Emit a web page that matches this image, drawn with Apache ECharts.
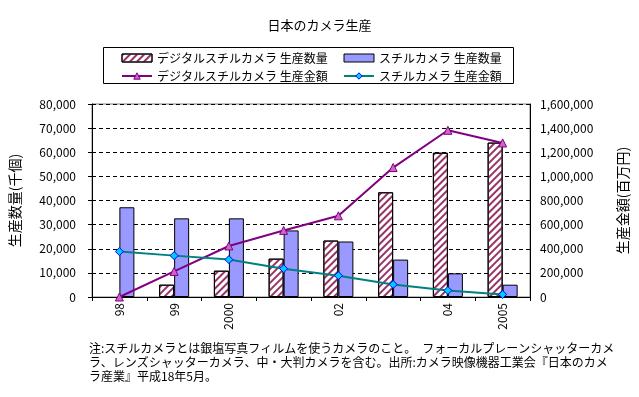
<!DOCTYPE html>
<html>
<head>
<meta charset="utf-8">
<script src="https://cdn.jsdelivr.net/npm/echarts@6/dist/echarts.min.js"></script>
<style>
  html, body { margin: 0; padding: 0; background: #fff; }
  #chart { width: 639px; height: 397px; }
</style>
</head>
<body>
<div id="chart"></div>
<script>
// 年（01年・03年はラベルなし）
const years = ['98', '99', '2000', '', '02', '', '04', '2005'];
// 生産数量（千個）  98年のデジタルは棒なし
const digitalQty = [null, 5100, 10900, 15900, 23400, 43400, 59800, 64000];
const stillQty = [37200, 32600, 32600, 27600, 23000, 15500, 9800, 5100];
// 生産金額（百万円）
const digitalValue = [0, 212000, 423000, 552000, 673000, 1073000, 1382000, 1277000];
const stillValue = [377000, 343000, 310000, 235000, 177000, 104000, 54000, 21000];

const FONT = '"Noto Sans CJK JP", "Noto Sans", sans-serif';
const fmt = v => v.toLocaleString('en-US');

const note = [
  '注:スチルカメラとは銀塩写真フィルムを使うカメラのこと。　フォーカルプレーンシャッターカメ',
  'ラ、レンズシャッターカメラ、中・大判カメラを含む。出所:カメラ映像機器工業会『日本のカメ',
  'ラ産業』平成18年5月。'
].join('\n');

const chart = echarts.init(document.getElementById('chart'));

const legendStyle = {
  orient: 'vertical',
  top: 47,
  itemWidth: 30, itemHeight: 8, itemGap: 6,
  itemStyle: { borderWidth: 1 },
  textStyle: { fontSize: 12, color: '#000', fontFamily: FONT }
};

const option = {
  animation: false,
  textStyle: { fontFamily: FONT, color: '#000' },
  title: {
    text: '日本のカメラ生産',
    left: 'center',
    top: 14,
    textStyle: { fontSize: 13, fontWeight: 'normal', color: '#000', fontFamily: FONT }
  },
  legend: [
    Object.assign({}, legendStyle, {
      left: 116,
      data: [
        { name: 'デジタルスチルカメラ 生産数量', icon: 'rect' },
        'デジタルスチルカメラ 生産金額'
      ]
    }),
    Object.assign({}, legendStyle, {
      left: 338,
      data: [
        { name: 'スチルカメラ 生産数量', icon: 'rect' },
        'スチルカメラ 生産金額'
      ]
    })
  ],
  graphic: [
    {
      type: 'rect',
      shape: { x: 103.5, y: 47.5, width: 410, height: 36 },
      style: { fill: 'none', stroke: '#000', lineWidth: 1 },
      z: -1
    },
    {
      type: 'text',
      left: 89, top: 341,
      style: { text: note, font: '12px ' + FONT, fill: '#000', lineHeight: 14 }
    }
  ],
  grid: {
    left: 92, right: 109, top: 104, bottom: 100,
    show: true, borderColor: '#808080', borderWidth: 1, backgroundColor: '#fff'
  },
  xAxis: {
    type: 'category',
    data: years,
    axisLine: { lineStyle: { color: '#000' } },
    axisTick: { show: true, alignWithLabel: false, interval: 0, length: 4, lineStyle: { color: '#000' } },
    axisLabel: { rotate: 90, interval: 0, fontSize: 12, color: '#000', margin: 6 }
  },
  yAxis: [
    {
      type: 'value',
      min: 0, max: 80000, interval: 10000,
      name: '生産数量(千個)',
      nameLocation: 'middle',
      nameGap: 70,
      nameRotate: 90,
      nameTextStyle: { fontSize: 14, color: '#000' },
      axisLine: { show: true, lineStyle: { color: '#000' } },
      axisTick: { show: true, length: 4, lineStyle: { color: '#000' } },
      axisLabel: { formatter: fmt, fontSize: 12, color: '#000', margin: 16 },
      splitLine: { show: true, lineStyle: { type: [4, 3], color: '#000' } }
    },
    {
      type: 'value',
      min: 0, max: 1600000, interval: 200000,
      name: '生産金額(百万円)',
      nameLocation: 'middle',
      nameGap: 86,
      nameRotate: 90,
      nameTextStyle: { fontSize: 14, color: '#000' },
      axisLine: { show: true, lineStyle: { color: '#000' } },
      axisTick: { show: true, inside: true, length: 4, lineStyle: { color: '#000' } },
      axisLabel: { formatter: fmt, fontSize: 12, color: '#000', margin: 10 },
      splitLine: { show: false }
    }
  ],
  series: [
    {
      name: 'デジタルスチルカメラ 生産数量',
      type: 'bar',
      data: digitalQty,
      barWidth: 15,
      barGap: '0%',
      itemStyle: {
        color: '#fff',
        borderColor: '#000',
        borderWidth: 1,
        decal: {
          symbol: 'rect',
          symbolSize: 1,
          color: '#993366',
          dashArrayX: [1, 0],
          dashArrayY: [2, 3],
          rotation: -Math.PI / 4
        }
      }
    },
    {
      name: 'スチルカメラ 生産数量',
      type: 'bar',
      data: stillQty,
      barWidth: 15,
      barGap: '0%',
      itemStyle: { color: '#9999ff', borderColor: '#000', borderWidth: 1 }
    },
    {
      name: 'デジタルスチルカメラ 生産金額',
      type: 'line',
      yAxisIndex: 1,
      data: digitalValue,
      symbol: 'triangle',
      symbolSize: 8,
      lineStyle: { color: '#800080', width: 2 },
      itemStyle: { color: '#cc66cc', borderColor: '#800080', borderWidth: 1 }
    },
    {
      name: 'スチルカメラ 生産金額',
      type: 'line',
      yAxisIndex: 1,
      data: stillValue,
      symbol: 'diamond',
      symbolSize: 8,
      lineStyle: { color: '#008080', width: 2 },
      itemStyle: { color: '#00ccff', borderColor: '#0000ff', borderWidth: 1 }
    }
  ]
};

chart.setOption(option);
</script>
</body>
</html>
